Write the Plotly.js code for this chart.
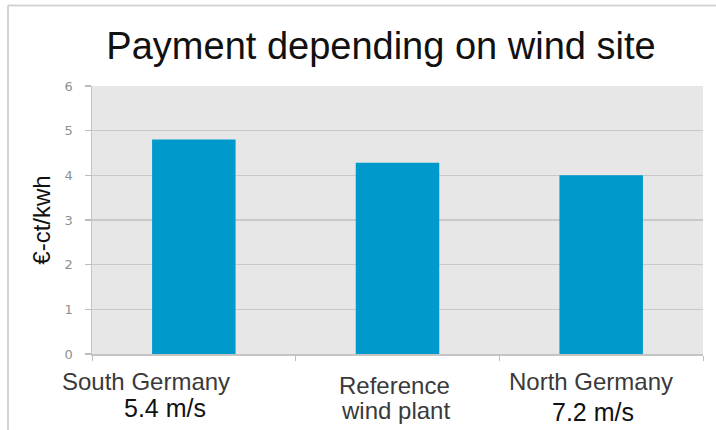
<!DOCTYPE html>
<html>
<head>
<meta charset="utf-8">
<script src="https://cdn.plot.ly/plotly-3.0.1.min.js"></script>
<style>html,body{margin:0;padding:0;background:#fff;}#chart{width:716px;height:430px;}</style>
</head>
<body>
<div id="chart"></div>
<script>
// ---- data ----
var categories = ["South Germany", "Reference wind plant", "North Germany"];
var payments = [4.8, 4.28, 4.0];
var labelLine1 = ["South Germany", "Reference", "North Germany"];
var labelLine2 = ["5.4 m/s", "wind plant", "7.2 m/s"];
var yTicks = [0, 1, 2, 3, 4, 5, 6];

// ---- label placement (style only) ----
var line1Shift = [[-48, -27], [-3, -31], [-10, -27]];
var line2Shift = [[-29, -54], [-2, -56], [-8, -58]];

var annotations = [];
for (var i = 0; i < categories.length; i++) {
  annotations.push({
    x: categories[i], y: 0, xref: 'x', yref: 'y',
    text: labelLine1[i], showarrow: false,
    xanchor: 'center', yanchor: 'middle',
    xshift: line1Shift[i][0], yshift: line1Shift[i][1],
    font: {family: 'Liberation Sans, Arial, sans-serif', size: 24, color: '#3a3a3a'}
  });
  annotations.push({
    x: categories[i], y: 0, xref: 'x', yref: 'y',
    text: labelLine2[i], showarrow: false,
    xanchor: 'center', yanchor: 'middle',
    xshift: line2Shift[i][0], yshift: line2Shift[i][1],
    font: {family: 'Liberation Sans, Arial, sans-serif', size: (i === 1 ? 24 : 25), color: (i === 1 ? '#3a3a3a' : '#111111')}
  });
}

var trace = {
  type: 'bar',
  x: categories,
  y: payments,
  width: 0.41,
  marker: {color: '#0099cc', line: {width: 0}},
  hoverinfo: 'x+y'
};

var layout = {
  width: 716, height: 430,
  margin: {l: 92, r: 13, t: 86, b: 76, pad: 0},
  paper_bgcolor: '#ffffff',
  plot_bgcolor: '#e7e7e7',
  showlegend: false,
  title: {
    text: 'Payment depending on wind site',
    font: {family: 'Liberation Sans, Arial, sans-serif', size: 38, color: '#111111'},
    x: 0.473, xanchor: 'center', xref: 'paper',
    y: 0.893, yanchor: 'middle', yref: 'container'
  },
  xaxis: {
    type: 'category',
    range: [-0.5, 2.5],
    autorange: false,
    showticklabels: false,
    tickson: 'boundaries',
    ticks: 'outside', ticklen: 5, tickcolor: '#bdbdbd', tickwidth: 1,
    showline: true, linecolor: '#c4c4c4', linewidth: 1.5,
    showgrid: false, zeroline: false,
    fixedrange: true
  },
  yaxis: {
    range: [0, 6],
    autorange: false,
    tickvals: yTicks,
    ticktext: yTicks.map(String),
    ticks: 'outside', ticklen: 6, tickcolor: '#bdbdbd', tickwidth: 1.5,
    ticklabelstandoff: 9,
    tickfont: {family: 'DejaVu Sans, sans-serif', size: 13, color: '#8f8f8f'},
    showline: true, linecolor: '#c4c4c4', linewidth: 1.5,
    showgrid: true, gridcolor: '#c9c9c9', gridwidth: 1.5,
    zeroline: false,
    title: {
      text: '€-ct/kwh',
      font: {family: 'Liberation Sans, Arial, sans-serif', size: 24, color: '#111111'},
      standoff: 7
    },
    fixedrange: true
  },
  annotations: annotations,
  shapes: [
    {type: 'line', xref: 'paper', yref: 'paper', x0: -0.1375, x1: -0.1375, y0: -0.3, y1: 1.3, line: {color: '#d4d4d4', width: 2}},
    {type: 'line', xref: 'paper', yref: 'paper', x0: -0.1375, x1: 1.05, y0: 1.3, y1: 1.3, line: {color: '#d4d4d4', width: 2}}
  ]
};

Plotly.newPlot('chart', [trace], layout, {displayModeBar: false, staticPlot: true});
</script>
</body>
</html>
